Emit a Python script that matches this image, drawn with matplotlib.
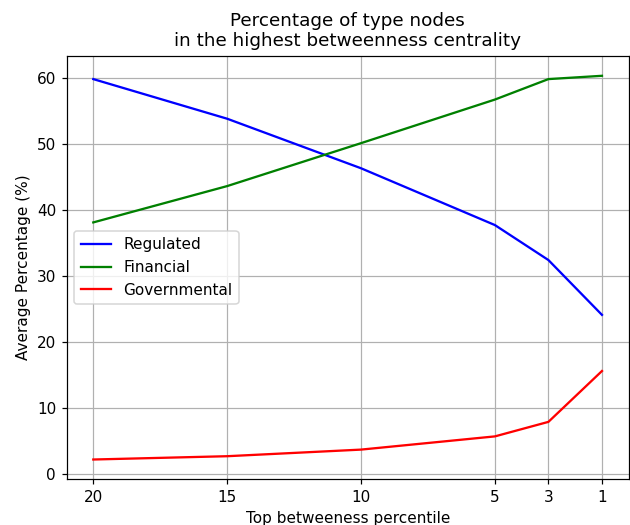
import matplotlib
matplotlib.use("Agg")
import matplotlib.pyplot as plt

percentiles = [20, 15, 10, 5, 3, 1]
regulated = [59.8, 53.8, 46.3, 37.7, 32.4, 24.1]
financial = [38.1, 43.6, 50.1, 56.7, 59.8, 60.3]
governmental = [2.2, 2.7, 3.7, 5.7, 7.9, 15.6]

DPI = 110
fig, ax = plt.subplots(figsize=(630 / DPI, 525 / DPI), dpi=DPI)
fig.subplots_adjust(left=0.106, right=0.998, top=0.894, bottom=0.087)
ax.plot(percentiles, regulated, color="blue", label="Regulated")
ax.plot(percentiles, financial, color="green", label="Financial")
ax.plot(percentiles, governmental, color="red", label="Governmental")
ax.set_xticks(percentiles)
ax.set_xlim(20.99, 0.0)
ax.set_ylim(-0.8, 63.35)
ax.grid(True, color="#b0b0b0", linewidth=0.8)
ax.set_xlabel("Top betweeness percentile")
ax.set_ylabel("Average Percentage (%)")
ax.set_title("Percentage of type nodes\nin the highest betweenness centrality")
ax.legend(loc="center left")
fig.savefig("out.png", dpi=DPI)
